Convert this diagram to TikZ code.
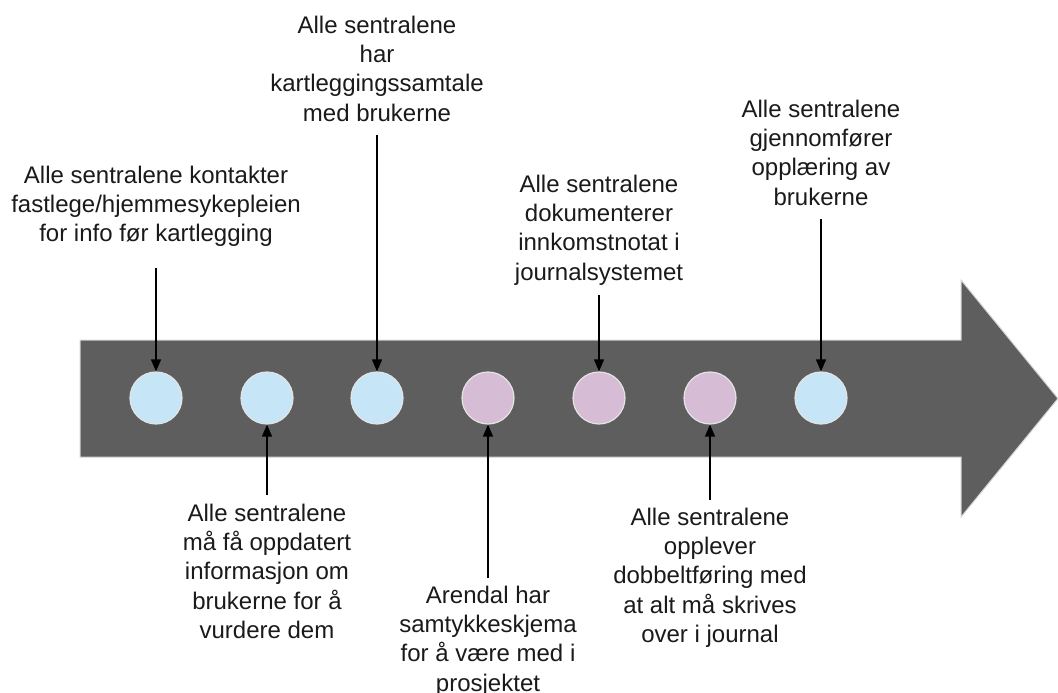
\documentclass[tikz,border=0pt]{standalone}
\usepackage{fontspec}
\setmainfont{Liberation Sans}
\usetikzlibrary{arrows.meta}
\definecolor{band}{HTML}{5E5E5E}
\definecolor{bandedge}{HTML}{D4D4D4}
\definecolor{doneblue}{HTML}{C6E5F7}
\definecolor{donepink}{HTML}{D6BDD5}
\definecolor{ringedge}{HTML}{E4E4E4}
\definecolor{ink}{HTML}{1A1A1A}

\begin{document}
\begin{tikzpicture}[x=1pt,y=-1pt,
  dot/.style={circle,minimum size=52pt,inner sep=0pt,draw=ringedge,line width=1.2pt},
  bluedot/.style={dot,fill=doneblue},
  pinkdot/.style={dot,fill=donepink},
  note/.style={align=center,inner sep=0pt,text=ink,font=\fontsize{24}{29.3}\selectfont},
  topnote/.style={note,anchor=north},
  pointer/.style={-{Triangle[length=12pt,width=10pt]},line width=1.4pt,black}]
\useasboundingbox (0,0) rectangle (1058,693);
\fill[white] (0,0) rectangle (1058,693);

% timeline arrow
\draw[fill=band,draw=bandedge,line width=1pt]
  (80,340) -- (961,340) -- (961,280) -- (1058,398.5) -- (961,517) -- (961,457) -- (80,457) -- cycle;

% milestones
\node[bluedot] (c1) at (156,398) {};
\node[bluedot] (c2) at (267,398) {};
\node[bluedot] (c3) at (377,398) {};
\node[pinkdot] (c4) at (488,398) {};
\node[pinkdot] (c5) at (599,398) {};
\node[pinkdot] (c6) at (710,398) {};
\node[bluedot] (c7) at (821,398) {};

% notes above the timeline
\node[topnote] (t1) at (156,165.8) {Alle sentralene kontakter\\fastlege/hjemmesykepleien\\for info før kartlegging};
\node[topnote] (t3) at (377,15.8) {Alle sentralene\\har\\kartleggingssamtale\\med brukerne};
\node[topnote] (t5) at (599,174.8) {Alle sentralene\\dokumenterer\\innkomstnotat i\\journalsystemet};
\node[topnote] (t7) at (821,99.8) {Alle sentralene\\gjennomfører\\opplæring av\\brukerne};

% notes below the timeline
\node[topnote] (t2) at (267,503.8) {Alle sentralene\\må få oppdatert\\informasjon om\\brukerne for å\\vurdere dem};
\node[topnote] (t4) at (488,585.8) {Arendal har\\samtykkeskjema\\for å være med i\\prosjektet};
\node[topnote] (t6) at (710,507.8) {Alle sentralene\\opplever\\dobbeltføring med\\at alt må skrives\\over i journal};

% pointer ends
\coordinate (p1) at (156,268);
\coordinate (p3) at (377,135);
\coordinate (p5) at (599,295);
\coordinate (p7) at (821,219);
\coordinate (p2) at (267,495);
\coordinate (p4) at (488,578);
\coordinate (p6) at (710,500);

\draw[pointer] (p1) -- (c1.north);
\draw[pointer] (p3) -- (c3.north);
\draw[pointer] (p5) -- (c5.north);
\draw[pointer] (p7) -- (c7.north);
\draw[pointer] (p2) -- (c2.south);
\draw[pointer] (p4) -- (c4.south);
\draw[pointer] (p6) -- (c6.south);
\end{tikzpicture}
\end{document}
